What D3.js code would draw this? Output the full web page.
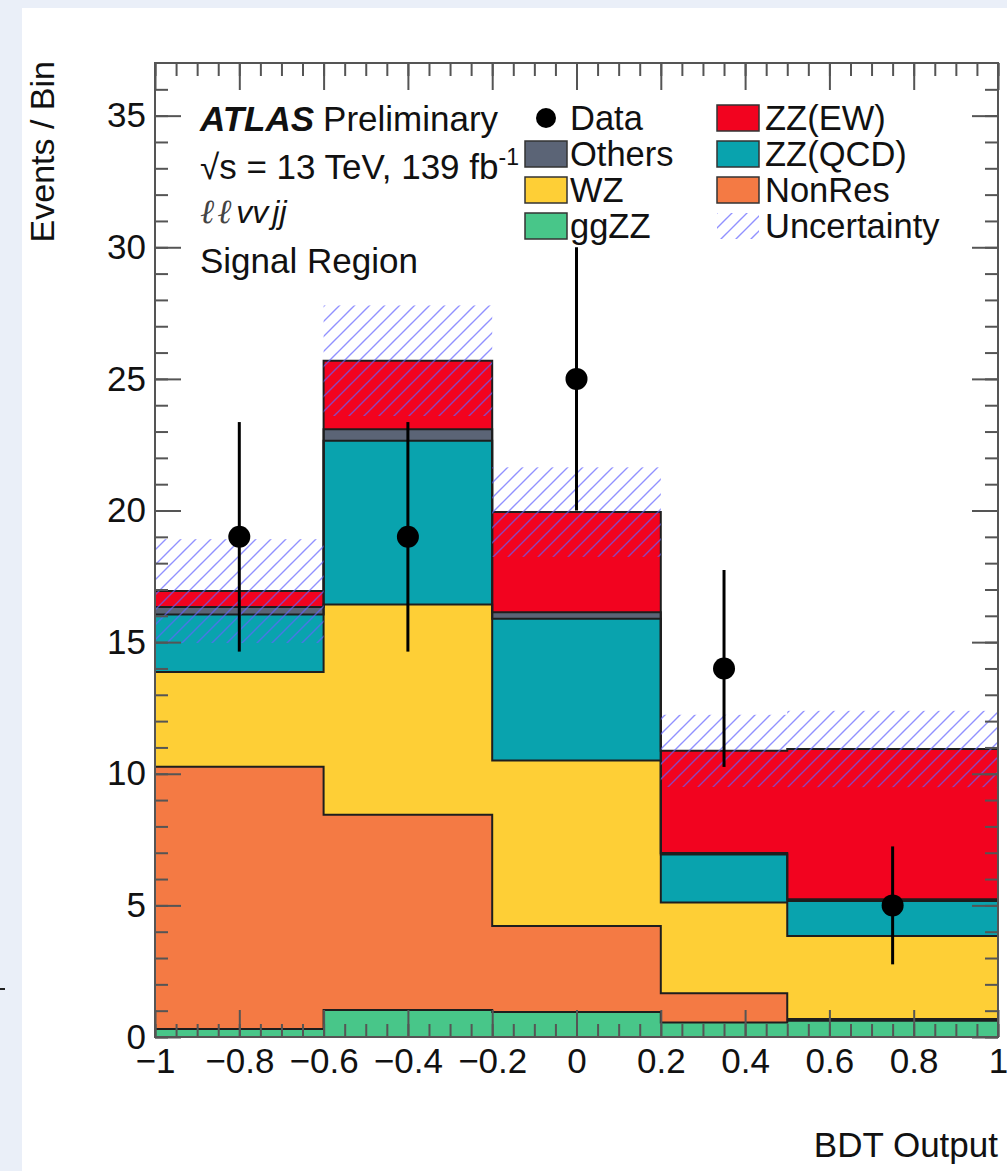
<!DOCTYPE html>
<html>
<head>
<meta charset="utf-8">
<script src="https://cdn.jsdelivr.net/npm/d3@7"></script>
<style>
  html, body { margin: 0; padding: 0; background: #eaeff8; }
  svg { display: block; }
  text { font-family: "Liberation Sans", Arial, Helvetica, sans-serif; fill: #111; }
</style>
</head>
<body>
<svg id="chart" width="1007" height="1171"></svg>
<script>
// Bin edges of the BDT output histogram
const binEdges = [-1, -0.6, -0.2, 0.2, 0.5, 1];

// Stacked background / signal yields per bin (bottom to top)
const ggZZ   = [0.30, 1.03, 0.95, 0.55, 0.62];
const nonRes = [9.97, 7.41, 3.27, 1.11, 0.06];
const wz     = [3.60, 7.99, 6.28, 3.45, 3.16];
const zzQCD  = [2.18, 6.22, 5.39, 1.82, 1.33];
const others = [0.28, 0.44, 0.25, 0.06, 0.06];
const zzEW   = [0.61, 2.60, 3.80, 3.88, 5.71];

// Total uncertainty (half-width of the band) per bin
const uncertainty = [1.97, 2.10, 1.70, 1.37, 1.45];

// Observed data
const dataX   = [-0.8, -0.4, 0, 0.35, 0.75];
const dataY   = [19, 19, 25, 14, 5];
const dataErr = [4.36, 4.36, 5.0, 3.74, 2.24];

// Axis ticks
const xMajorTicks = [-1, -0.8, -0.6, -0.4, -0.2, 0, 0.2, 0.4, 0.6, 0.8, 1];
const xTickLabels = ["\u22121", "\u22120.8", "\u22120.6", "\u22120.4", "\u22120.2", "0", "0.2", "0.4", "0.6", "0.8", "1"];
const yMajorTicks = [0, 5, 10, 15, 20, 25, 30, 35];
const yTickLabels = ["0", "5", "10", "15", "20", "25", "30", "35"];

const seriesKeys   = ["ggZZ", "NonRes", "WZ", "ZZ(QCD)", "Others", "ZZ(EW)"];
const seriesValues = [ggZZ, nonRes, wz, zzQCD, others, zzEW];
const seriesColors = {
  "ggZZ": "#48c689", "NonRes": "#f47a44", "WZ": "#fecf36",
  "ZZ(QCD)": "#09a3ae", "Others": "#5b6476", "ZZ(EW)": "#f2031f"
};

const svg = d3.select("#chart");
const W = 1007, H = 1171;
const frame = { left: 155, right: 998, top: 63, bottom: 1037 };
const FS = 35;

// page panel
svg.append("rect").attr("x", 22).attr("y", 8).attr("width", W - 22).attr("height", H - 8).attr("fill", "#fff");
svg.append("line").attr("x1", 0).attr("x2", 5).attr("y1", 989).attr("y2", 989)
  .attr("stroke", "#222").attr("stroke-width", 2);

const x = d3.scaleLinear().domain([-1, 1]).range([frame.left, frame.right]);
const y = d3.scaleLinear().domain([0, 37]).range([frame.bottom, frame.top]);

// hatch pattern for the uncertainty band
const defs = svg.append("defs");
const pat = defs.append("pattern").attr("id", "hatch")
  .attr("patternUnits", "userSpaceOnUse").attr("width", 15).attr("height", 15);
pat.append("path").attr("d", "M-2,2 L2,-2 M0,15 L15,0 M13,17 L17,13")
  .attr("stroke", "#6262ff").attr("stroke-opacity", 0.7).attr("stroke-width", 1.4);

// stacked histogram
const rows = binEdges.slice(0, -1).map((_, i) => {
  const r = {};
  seriesKeys.forEach((k, j) => { r[k] = seriesValues[j][i]; });
  return r;
});
const stacked = d3.stack().keys(seriesKeys)(rows);

function stepPoints(s) {
  const pts = [];
  s.forEach((d, i) => {
    pts.push({ x: binEdges[i], y0: d[0], y1: d[1] });
    pts.push({ x: binEdges[i + 1], y0: d[0], y1: d[1] });
  });
  return pts;
}
const area = d3.area().x(d => x(d.x)).y0(d => y(d.y0)).y1(d => y(d.y1));
const topLine = d3.line().x(d => x(d.x)).y(d => y(d.y1));

const gStack = svg.append("g");
stacked.forEach(s => {
  gStack.append("path").attr("d", area(stepPoints(s)))
    .attr("fill", seriesColors[s.key]).attr("stroke", "none");
});
stacked.forEach(s => {
  gStack.append("path").attr("d", topLine(stepPoints(s)))
    .attr("fill", "none").attr("stroke", "#1e1e1e").attr("stroke-width", 2);
});

// uncertainty band around the total
const totals = stacked[stacked.length - 1].map(d => d[1]);
svg.append("g").selectAll("rect").data(totals).join("rect")
  .attr("x", (d, i) => x(binEdges[i]))
  .attr("width", (d, i) => x(binEdges[i + 1]) - x(binEdges[i]))
  .attr("y", (d, i) => y(d + uncertainty[i]))
  .attr("height", (d, i) => y(d - uncertainty[i]) - y(d + uncertainty[i]))
  .attr("fill", "url(#hatch)");

// data points with statistical error bars
const gData = svg.append("g");
gData.selectAll("line").data(dataY).join("line")
  .attr("x1", (d, i) => x(dataX[i])).attr("x2", (d, i) => x(dataX[i]))
  .attr("y1", (d, i) => y(d - dataErr[i])).attr("y2", (d, i) => y(d + dataErr[i]))
  .attr("stroke", "#000").attr("stroke-width", 3);
gData.selectAll("circle").data(dataY).join("circle")
  .attr("cx", (d, i) => x(dataX[i])).attr("cy", d => y(d)).attr("r", 11).attr("fill", "#000");

// axes with inward ticks on all four sides
const axisColor = "#555";
const xMinor = d3.range(-1, 1.0001, 0.05).map(v => Math.round(v * 100) / 100);
const yMinor = d3.range(0, 37, 1);
const fmtX = d => xTickLabels[xMajorTicks.indexOf(d)];
const fmtY = d => yTickLabels[yMajorTicks.indexOf(d)];

function styleAxis(g) {
  g.select(".domain").remove();
  g.selectAll(".tick line").attr("stroke", axisColor).attr("stroke-width", 2);
  g.selectAll("text").attr("font-size", FS).attr("fill", "#111")
    .attr("font-family", "'Liberation Sans', Arial, sans-serif");
}

svg.append("g").attr("transform", `translate(0,${frame.bottom})`)
  .call(d3.axisBottom(x).tickValues(xMinor).tickSize(-13).tickFormat("")).call(styleAxis);
svg.append("g").attr("transform", `translate(0,${frame.bottom})`)
  .call(d3.axisBottom(x).tickValues(xMajorTicks).tickSize(-27).tickPadding(11).tickFormat(fmtX)).call(styleAxis);
svg.append("g").attr("transform", `translate(0,${frame.top})`)
  .call(d3.axisTop(x).tickValues(xMinor).tickSize(-13).tickFormat("")).call(styleAxis);
svg.append("g").attr("transform", `translate(0,${frame.top})`)
  .call(d3.axisTop(x).tickValues(xMajorTicks).tickSize(-27).tickFormat("")).call(styleAxis);

svg.append("g").attr("transform", `translate(${frame.left},0)`)
  .call(d3.axisLeft(y).tickValues(yMinor).tickSize(-13).tickFormat("")).call(styleAxis);
svg.append("g").attr("transform", `translate(${frame.left},0)`)
  .call(d3.axisLeft(y).tickValues(yMajorTicks).tickSize(-26).tickPadding(9).tickFormat(fmtY)).call(styleAxis);
svg.append("g").attr("transform", `translate(${frame.right},0)`)
  .call(d3.axisRight(y).tickValues(yMinor).tickSize(-13).tickFormat("")).call(styleAxis);
svg.append("g").attr("transform", `translate(${frame.right},0)`)
  .call(d3.axisRight(y).tickValues(yMajorTicks).tickSize(-26).tickFormat("")).call(styleAxis);

svg.append("rect")
  .attr("x", frame.left).attr("y", frame.top)
  .attr("width", frame.right - frame.left).attr("height", frame.bottom - frame.top)
  .attr("fill", "none").attr("stroke", axisColor).attr("stroke-width", 2);

// axis titles
svg.append("text").attr("x", frame.right).attr("y", 1157).attr("text-anchor", "end")
  .attr("font-size", FS).text("BDT Output");
svg.append("text").attr("transform", `translate(54,${frame.top - 2}) rotate(-90)`)
  .attr("text-anchor", "end").attr("font-size", 34).text("Events / Bin");

// ATLAS label block
const lab = svg.append("g").attr("font-size", FS);
const t1 = lab.append("text").attr("x", 200).attr("y", 131);
t1.append("tspan").attr("font-weight", "bold").attr("font-style", "italic").text("ATLAS");
t1.append("tspan").attr("dx", 9).text("Preliminary");
const t2 = lab.append("text").attr("x", 200).attr("y", 179);
t2.append("tspan").text("\u221As = 13 TeV, 139 fb");
t2.append("tspan").attr("font-size", 23).attr("dy", -14).text("-1");
const t3 = lab.append("text").attr("x", 200).attr("y", 223);
t3.append("tspan").attr("font-family", "'DejaVu Serif', serif").attr("font-style", "italic")
  .attr("font-size", 34).attr("fill", "#444").text("\u2113");
t3.append("tspan").attr("dx", 3).attr("font-family", "'DejaVu Serif', serif").attr("font-style", "italic")
  .attr("font-size", 34).attr("fill", "#444").text("\u2113");
t3.append("tspan").attr("dx", 5).attr("font-style", "italic").attr("font-size", 32).text("vv");
t3.append("tspan").attr("dx", 4).attr("font-style", "italic").attr("font-size", 32).text("jj");
lab.append("text").attr("x", 200).attr("y", 273).text("Signal Region");

// legend
const leg = svg.append("g").attr("font-size", 34.5);
const rowY = [118, 154, 190, 226];
const legendItems = [
  { label: "Data", col: 0, row: 0, type: "marker" },
  { label: "Others", col: 0, row: 1, type: "box", key: "Others" },
  { label: "WZ", col: 0, row: 2, type: "box", key: "WZ" },
  { label: "ggZZ", col: 0, row: 3, type: "box", key: "ggZZ" },
  { label: "ZZ(EW)", col: 1, row: 0, type: "box", key: "ZZ(EW)" },
  { label: "ZZ(QCD)", col: 1, row: 1, type: "box", key: "ZZ(QCD)" },
  { label: "NonRes", col: 1, row: 2, type: "box", key: "NonRes" },
  { label: "Uncertainty", col: 1, row: 3, type: "hatch" }
];
const colBox = [525, 717];
legendItems.forEach(it => {
  const cy = rowY[it.row];
  const bx = colBox[it.col];
  if (it.type === "marker") {
    leg.append("circle").attr("cx", bx + 21).attr("cy", cy).attr("r", 10).attr("fill", "#000");
  } else if (it.type === "box") {
    leg.append("rect").attr("x", bx).attr("y", cy - 13).attr("width", 42).attr("height", 26)
      .attr("fill", seriesColors[it.key]).attr("stroke", "#333").attr("stroke-width", 1.5);
  } else {
    leg.append("rect").attr("x", bx).attr("y", cy - 13).attr("width", 42).attr("height", 26)
      .attr("fill", "url(#hatch)");
  }
  leg.append("text").attr("x", bx + (it.col === 0 ? 45 : 48)).attr("y", cy + 12).text(it.label);
});
</script>
</body>
</html>
